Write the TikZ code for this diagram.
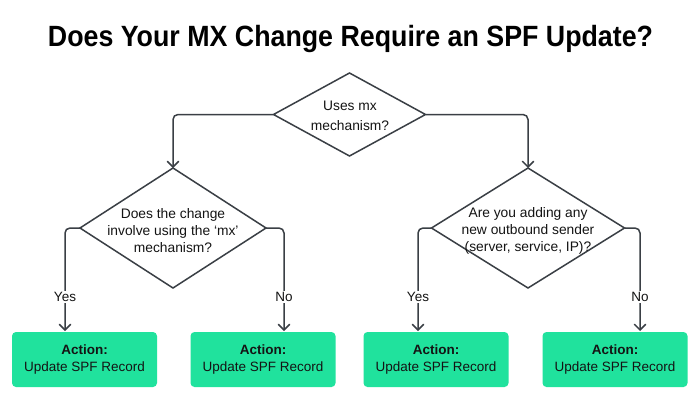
\documentclass[tikz,border=0pt]{standalone}
\usepackage{fontspec}
\usepackage{graphicx}
\setmainfont{Liberation Sans}
\usetikzlibrary{shapes.geometric,arrows.meta}
\definecolor{linec}{HTML}{3A3F45}
\definecolor{boxg}{HTML}{20E29D}
\definecolor{txt}{HTML}{141414}
\begin{document}
\begin{tikzpicture}[x=1pt,y=-1pt,
  dia/.style={diamond, draw=linec, line width=1.5pt, inner sep=0pt, outer sep=0pt},
  dtext/.style={align=center, text=txt, inner sep=0pt, font=\fontsize{13.8}{17}\selectfont},
  actbox/.style={rectangle, rounded corners=4pt, fill=boxg, minimum width=145pt, minimum height=55pt,
    inner sep=0pt, align=center, text=txt, font=\fontsize{13.5}{17.5}\selectfont},
  conn/.style={draw=linec, line width=1.5pt, rounded corners=5pt,
    -{Straight Barb[length=5.5pt,width=11pt,line width=1.5pt,line cap=round]}},
  lbl/.style={fill=white, inner sep=1.5pt, text=txt, font=\fontsize{13.5}{15}\selectfont}
]
\useasboundingbox (0,0) rectangle (700,410);
\fill[white] (0,0) rectangle (700,410);

\node[anchor=base, text=black, inner sep=0pt] (title) at (350.5,46)
  {\scalebox{0.914}[1]{\fontsize{29.3}{35}\selectfont\bfseries Does Your MX Change Require an SPF Update?}};

% diamonds
\node[dia, minimum width=152pt, minimum height=83pt] (top) at (349.5,114.5) {};
\node[dtext, font=\fontsize{13.8}{20}\selectfont] (toptext) at (350,116) {Uses mx\\mechanism?};

\node[dia, minimum width=186pt, minimum height=120pt] (ld) at (173,228) {};
\node[dtext] (ldtext) at (173,231) {Does the change\\involve using the ‘mx’\\mechanism?};

\node[dia, minimum width=193pt, minimum height=120pt] (rd) at (528,228) {};
\node[dtext] (rdtext) at (528,231) {Are you adding any\\new outbound sender\\(server, service, IP)?};

% action boxes
\node[actbox] (b1) at (84.5,359.5) {\textbf{Action:}\\Update SPF Record};
\node[actbox] (b2) at (263,359.5) {\textbf{Action:}\\Update SPF Record};
\node[actbox] (b3) at (436,359.5) {\textbf{Action:}\\Update SPF Record};
\node[actbox] (b4) at (615,359.5) {\textbf{Action:}\\Update SPF Record};

% arrow end points on box tops
\coordinate (e1) at (65,331);
\coordinate (e2) at (284,331);
\coordinate (e3) at (418,331);
\coordinate (e4) at (640,331);

% connectors
\draw[conn] (top.west) -| (ld.north);
\draw[conn] (top.east) -| (rd.north);
\draw[conn] (ld.west) -| (e1);
\draw[conn] (ld.east) -| (e2);
\draw[conn] (rd.west) -| (e3);
\draw[conn] (rd.east) -| (e4);

% labels
\node[lbl] (l1) at (65,297) {Yes};
\node[lbl] (l2) at (284,297) {No};
\node[lbl] (l3) at (418,297) {Yes};
\node[lbl] (l4) at (640,297) {No};
\end{tikzpicture}
\end{document}
